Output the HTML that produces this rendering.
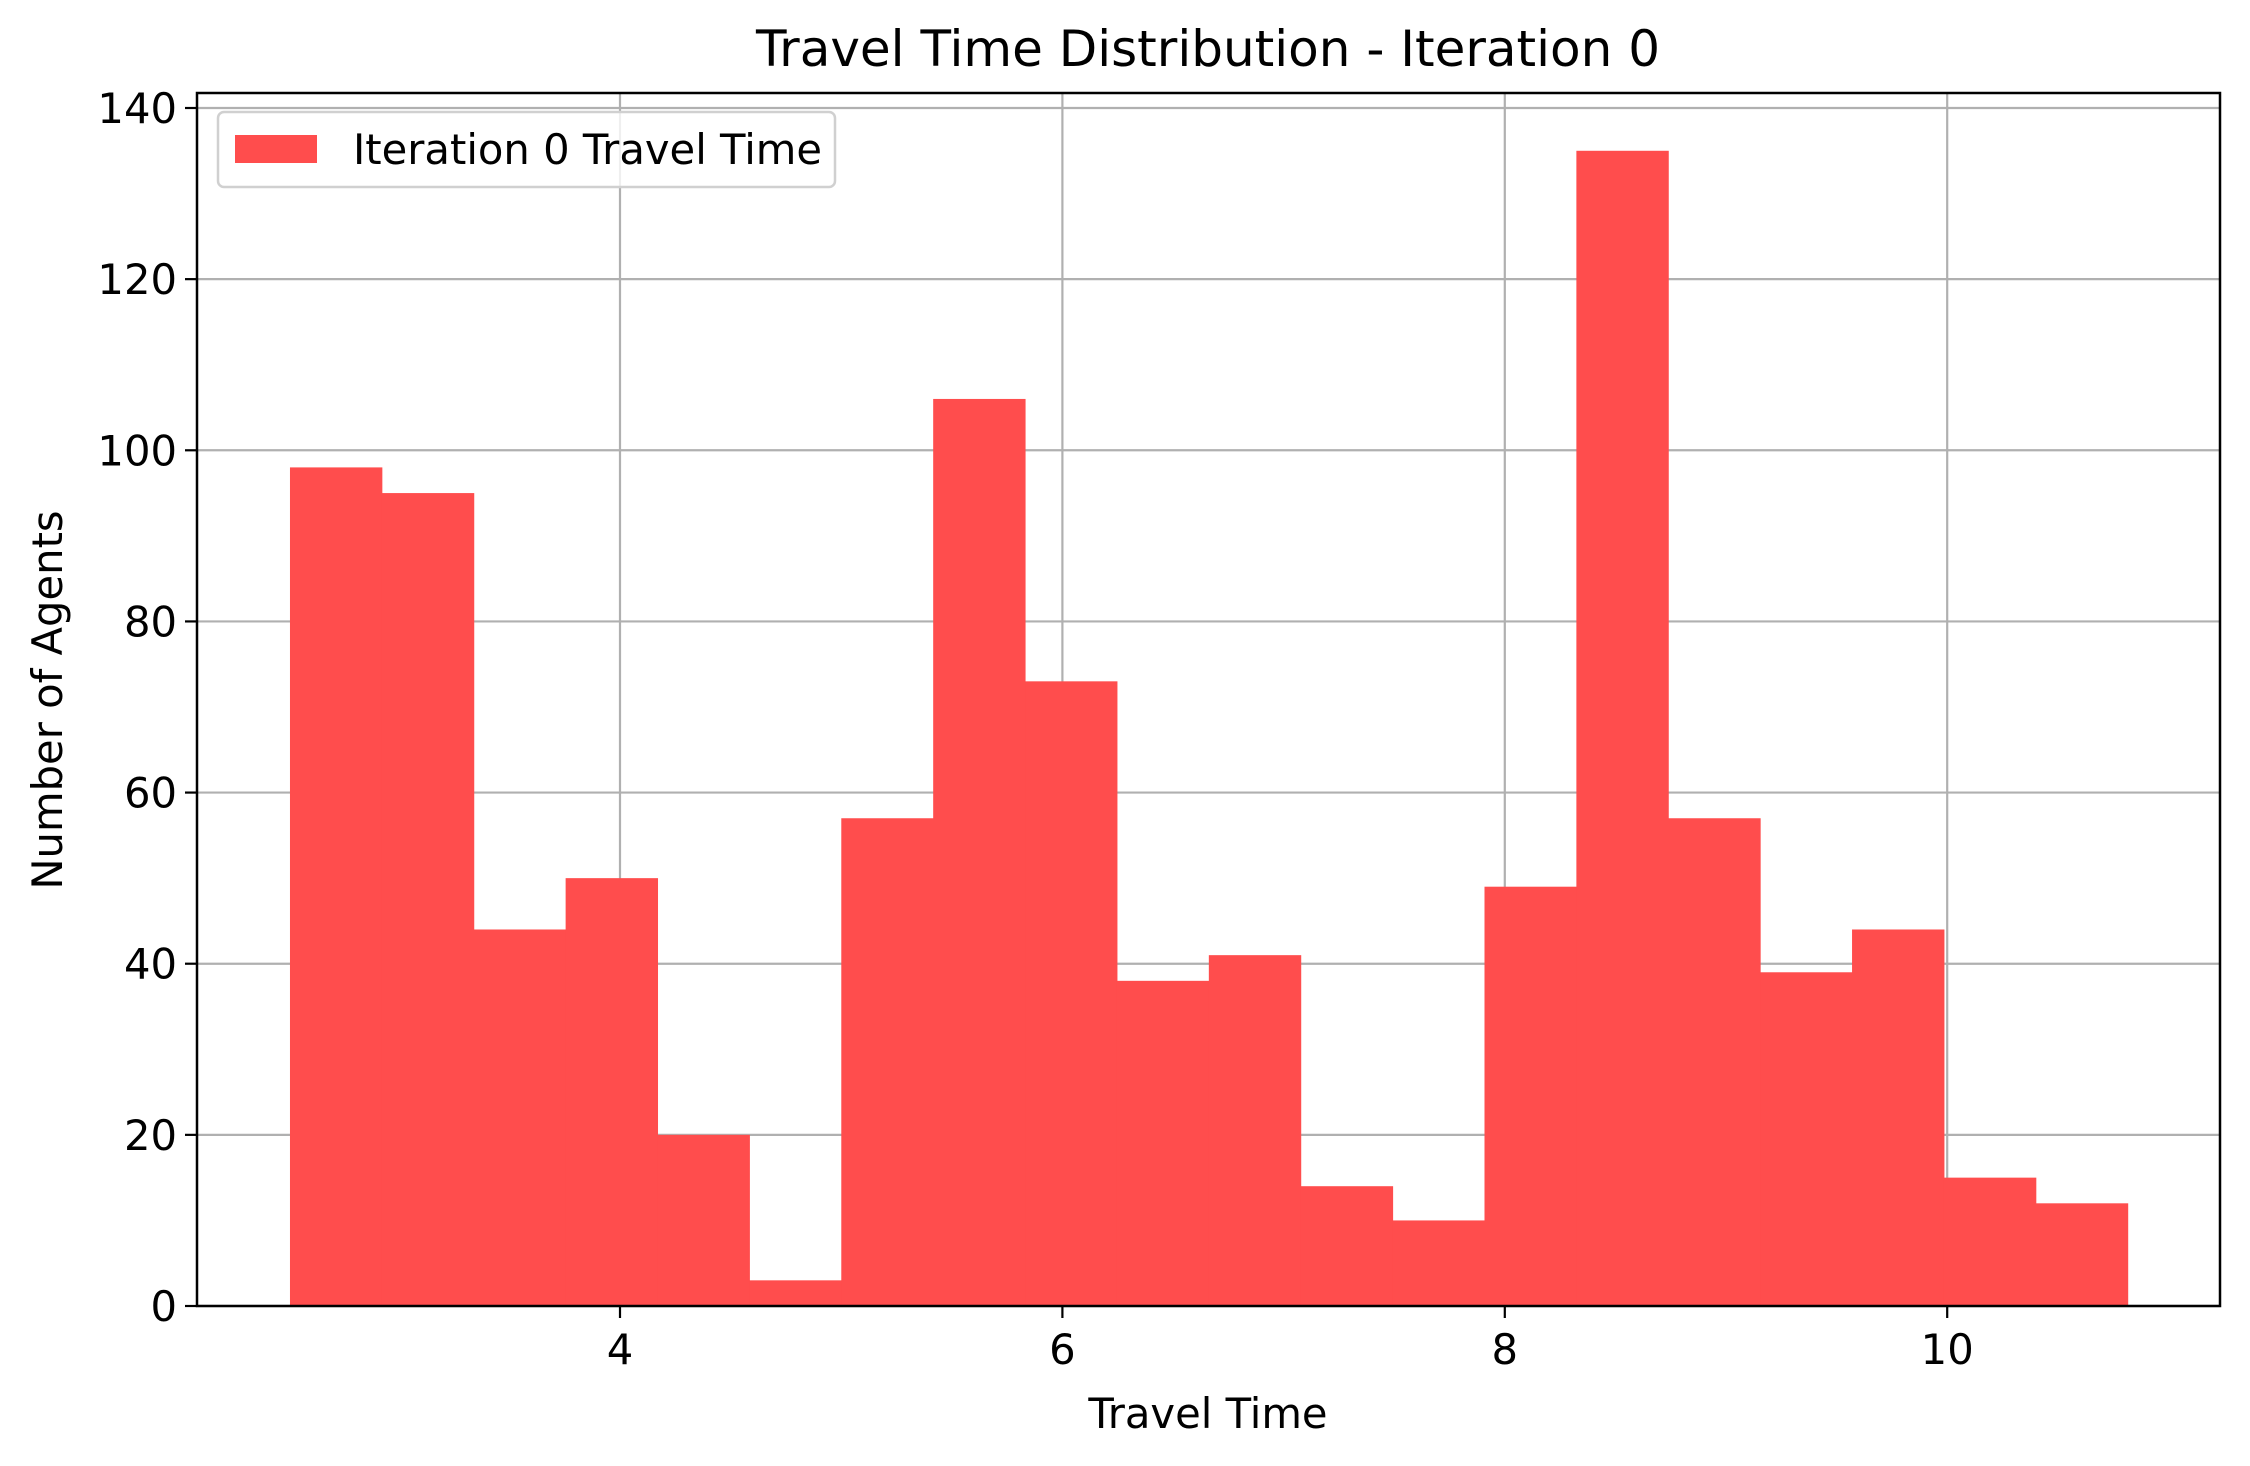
<!DOCTYPE html>
<html><head><meta charset="utf-8"><style>
html,body{margin:0;padding:0;background:#fff;}
svg{display:block;font-family:"DejaVu Sans","Liberation Sans",sans-serif;}
</style></head><body>
<svg id="chart" width="2250" height="1466" viewBox="0 0 2250 1466" xmlns="http://www.w3.org/2000/svg">
<rect width="2250" height="1466" fill="#fff"/>
<g id="grid"></g>
<g id="bars"></g>
<g id="axes"></g>
<text x="1208" y="66" font-size="50" text-anchor="middle">Travel Time Distribution - Iteration 0</text>
<text x="1208" y="1428" font-size="41.7" text-anchor="middle">Travel Time</text>
<text x="62" y="700" font-size="41.7" text-anchor="middle" transform="rotate(-90 62 700)">Number of Agents</text>
<g>
<rect x="218" y="112" width="617" height="75" rx="6" fill="#fff" fill-opacity="0.8" stroke="#d0d0d0" stroke-width="2.5"/>
<rect x="235" y="135" width="82" height="28" fill="#ff4d4d"/>
<text x="353" y="164" font-size="41.7">Iteration 0 Travel Time</text>
</g>
</svg>
<script>
const binStart = 2.508;
const binWidth = 0.4154;
const counts = [98,95,44,50,20,3,57,106,73,38,41,14,10,49,135,57,39,44,15,12];
const xTicks = [4,6,8,10];
const yTicks = [0,20,40,60,80,100,120,140];

const L=197,R=2220,T=93,B=1306;
function xs(v){return 620+(v-4)*221.2;}
function ys(v){return B-v*(B-108)/140;}
const NS="http://www.w3.org/2000/svg";
function mk(tag,attrs,parent){const e=document.createElementNS(NS,tag);for(const k in attrs)e.setAttribute(k,attrs[k]);parent.appendChild(e);return e;}
const grid=document.getElementById('grid'),bars=document.getElementById('bars'),axes=document.getElementById('axes');
xTicks.forEach(t=>{
  const g=mk('line',{x1:xs(t),x2:xs(t),y1:T,y2:B,stroke:'#b0b0b0','stroke-width':2.2},grid);
  
  
});
yTicks.forEach(t=>{
  const g=mk('line',{x1:L,x2:R,y1:ys(t),y2:ys(t),stroke:'#b0b0b0','stroke-width':2.2},grid);
  
  
});
counts.forEach((c,i)=>{
  const x0=xs(binStart+i*binWidth),x1=xs(binStart+(i+1)*binWidth);
  const r=mk('rect',{x:x0,y:ys(c),width:x1-x0+0.5,height:ys(0)-ys(c),fill:'#ff4d4d'},bars);
  
  
});
const frame=mk('rect',{x:L,y:T,width:R-L,height:B-T,fill:'none',stroke:'#000','stroke-width':2.5},axes);


xTicks.forEach(t=>{
  const tk=mk('line',{x1:xs(t),x2:xs(t),y1:B,y2:B+12,stroke:'#000','stroke-width':2.2},axes);
  
  
  const lb=mk('text',{x:xs(t),y:B+58,'font-size':41.7,'text-anchor':'middle'},axes);
  lb.textContent=t;
  
  
});
yTicks.forEach(t=>{
  const tk=mk('line',{x1:L-12,x2:L,y1:ys(t),y2:ys(t),stroke:'#000','stroke-width':2.2},axes);
  
  
  const lb=mk('text',{x:L-20,y:ys(t)+15,'font-size':41.7,'text-anchor':'end'},axes);
  lb.textContent=t;
  
  
});
</script>
</body></html>
